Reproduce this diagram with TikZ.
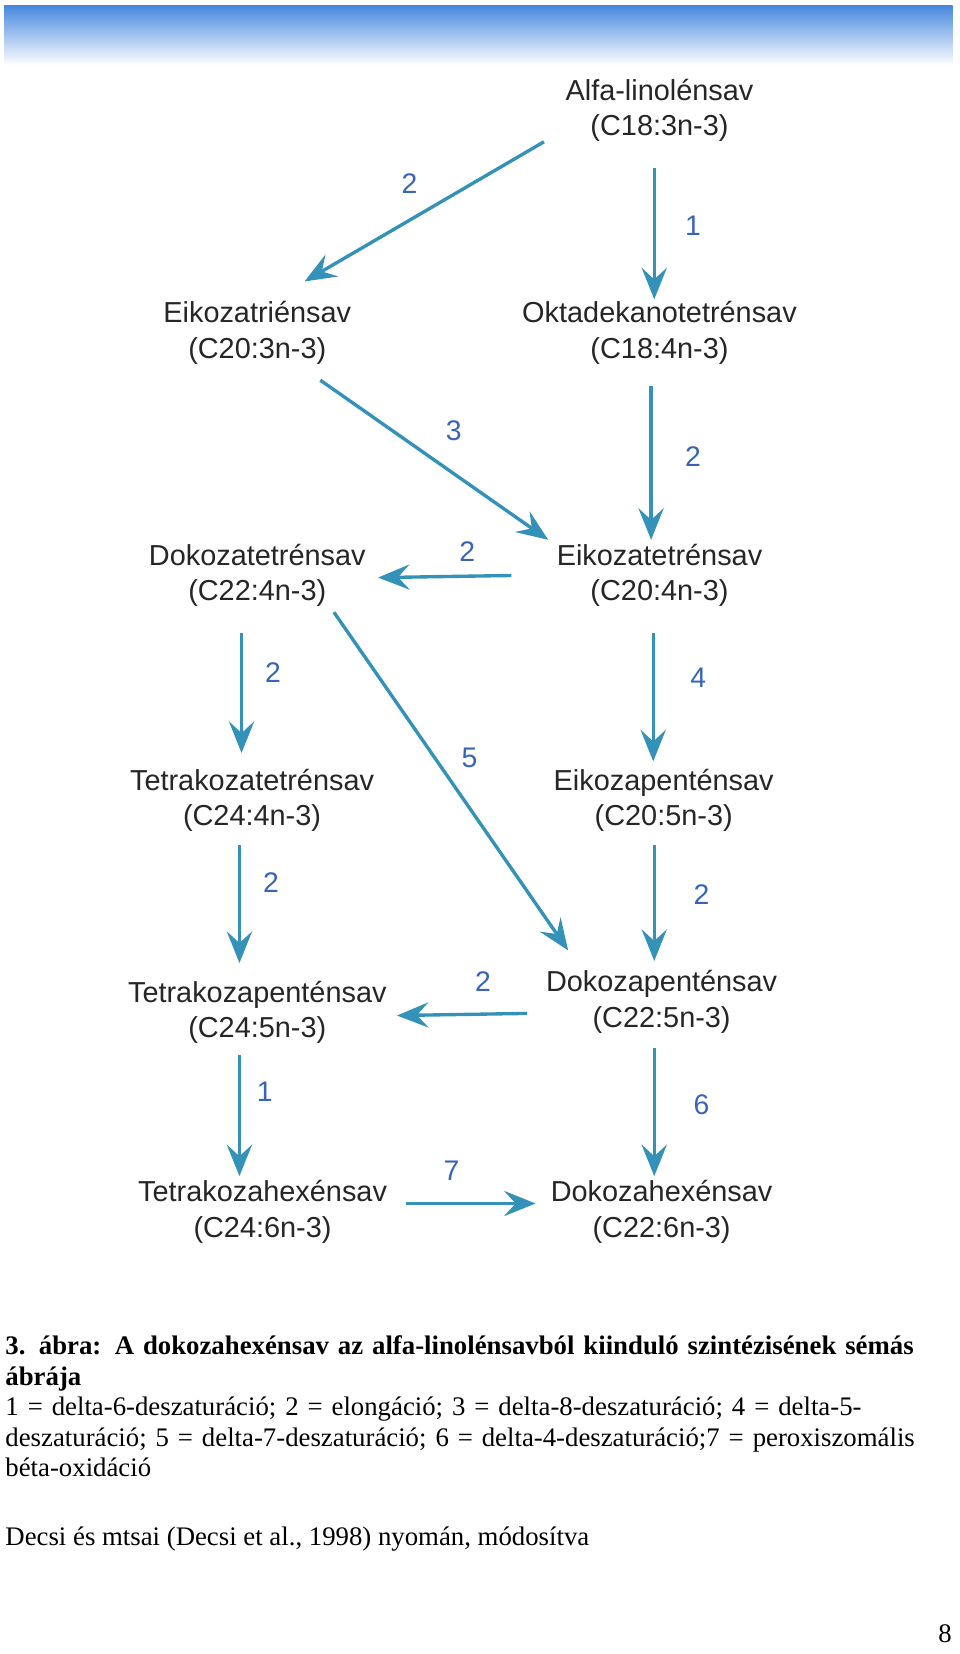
\documentclass[tikz,border=0pt]{standalone}
\usepackage{fontspec}
\setmainfont{Liberation Serif}
\newfontfamily\arialf{Liberation Sans}
\usetikzlibrary{arrows.meta}
\definecolor{arr}{RGB}{52,146,184}
\definecolor{lab}{RGB}{56,100,185}
\definecolor{barc}{RGB}{70,135,222}
\begin{document}
\begin{tikzpicture}[x=1pt,y=-1pt,
  chem/.style={font=\arialf\fontsize{27.5}{34}\selectfont,align=center,inner sep=0pt,text=black!85},
  rx/.style={draw=arr,line width=3.2pt,-{Stealth[length=30pt,width=24pt,inset=11pt]}},
  num/.style={font=\arialf\fontsize{27}{27}\selectfont,text=lab,inner sep=0pt},
  captxt/.style={font=\fontsize{25.5}{29}\selectfont,anchor=north west,inner sep=0pt,align=left}]
\useasboundingbox (0,0) rectangle (914,1575);
\fill[white] (0,0) rectangle (914,1575);
\shade[top color=barc,bottom color=white] (4,5) rectangle (907,62);
% nodes
\node[chem] (a) at (628,105) {Alfa-linolénsav\\(C18:3n-3)};
\node[chem] (b) at (245,317) {Eikozatriénsav\\(C20:3n-3)};
\node[chem] (c) at (628,317) {Oktadekanotetrénsav\\(C18:4n-3)};
\node[chem] (d) at (245,548) {Dokozatetrénsav\\(C22:4n-3)};
\node[chem] (e) at (628,548) {Eikozatetrénsav\\(C20:4n-3)};
\node[chem] (f) at (240,762) {Tetrakozatetrénsav\\(C24:4n-3)};
\node[chem] (g) at (632,762) {Eikozapenténsav\\(C20:5n-3)};
\node[chem] (h) at (245,964) {Tetrakozapenténsav\\(C24:5n-3)};
\node[chem] (i) at (630,954) {Dokozapenténsav\\(C22:5n-3)};
\node[chem] (j) at (250,1154) {Tetrakozahexénsav\\(C24:6n-3)};
\node[chem] (k) at (630,1154) {Dokozahexénsav\\(C22:6n-3)};
% connector endpoints
\coordinate (a1) at (518,135); \coordinate (b1) at (290,268);
\coordinate (a2) at (623,160); \coordinate (c1) at (623,285);
\coordinate (b2) at (305,362); \coordinate (e1) at (522,514);
\coordinate (c2) at (620,368); \coordinate (e2) at (620,514);
\coordinate (e3) at (487,548); \coordinate (d1) at (360,550);
\coordinate (d2) at (230,603); \coordinate (f1) at (230,717);
\coordinate (e4) at (622,603); \coordinate (g1) at (622,725);
\coordinate (d3) at (318,583); \coordinate (i1) at (541,905);
\coordinate (f2) at (228,805); \coordinate (h1) at (228,917);
\coordinate (g2) at (623,805); \coordinate (i2) at (623,915);
\coordinate (i3) at (502,965); \coordinate (h2) at (378,967);
\coordinate (h3) at (228,1005); \coordinate (j1) at (228,1120);
\coordinate (i4) at (623,998); \coordinate (k1) at (623,1120);
\coordinate (j2) at (387,1146); \coordinate (k2) at (510,1146);
\draw[rx] (a1) -- (b1); \draw[rx] (a2) -- (c1);
\draw[rx] (b2) -- (e1); \draw[rx] (c2) -- (e2);
\draw[rx] (e3) -- (d1); \draw[rx] (d2) -- (f1);
\draw[rx] (e4) -- (g1); \draw[rx] (d3) -- (i1);
\draw[rx] (f2) -- (h1); \draw[rx] (g2) -- (i2);
\draw[rx] (i3) -- (h2); \draw[rx] (h3) -- (j1);
\draw[rx] (i4) -- (k1); \draw[rx] (j2) -- (k2);
% labels
\node[num] (n1) at (390,175) {2};
\node[num] (n2) at (660,215) {1};
\node[num] (n3) at (432,410) {3};
\node[num] (n4) at (660,435) {2};
\node[num] (n5) at (445,525) {2};
\node[num] (n6) at (260,640) {2};
\node[num] (n7) at (665,645) {4};
\node[num] (n8) at (447,722) {5};
\node[num] (n9) at (258,840) {2};
\node[num] (n10) at (668,852) {2};
\node[num] (n11) at (460,935) {2};
\node[num] (n12) at (252,1040) {1};
\node[num] (n13) at (668,1052) {6};
\node[num] (n14) at (430,1115) {7};
% caption
\node[captxt,text width=900pt] (cp) at (5,1272) {\textbf{3. ábra: A dokozahexénsav az alfa-linolénsavból kiinduló szintézisének sémás ábrája}\\
1 = delta-6-deszaturáció; 2 = elongáció; 3 = delta-8-deszaturáció; 4 = delta-5-deszaturáció; 5 = delta-7-deszaturáció; 6 = delta-4-deszaturáció;7 = peroxiszomális béta-oxidáció};
\node[captxt] (src) at (5,1454) {Decsi és mtsai (Decsi et al., 1998) nyomán, módosítva};
\node[font=\fontsize{25.5}{28}\selectfont,inner sep=0pt] (pg) at (900,1556) {8};
\end{tikzpicture}
\end{document}
